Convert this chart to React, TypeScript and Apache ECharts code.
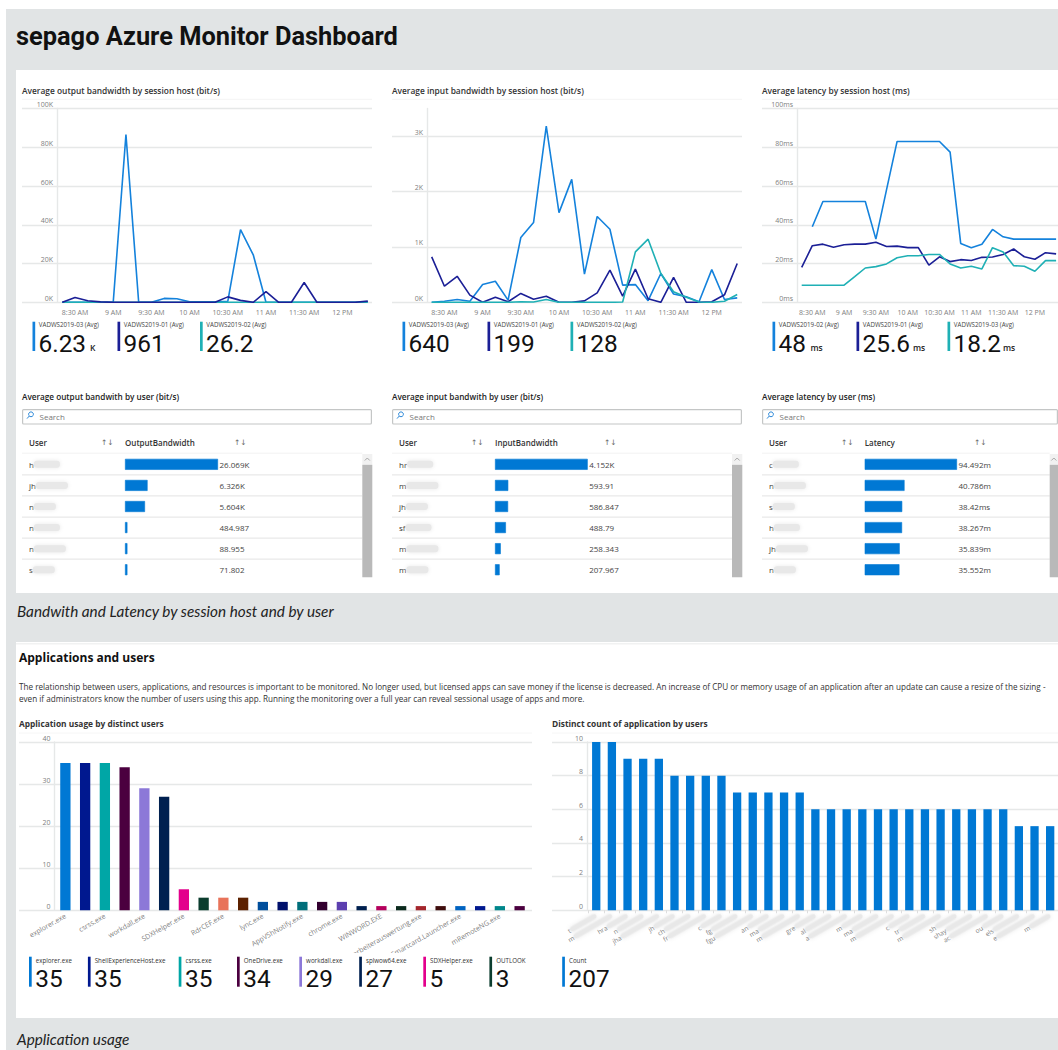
import React, { useEffect, useRef } from "react";
import * as echarts from "echarts";

const timeMinutes = [500, 510, 520, 530, 540, 550, 560, 570, 580, 590, 600, 610, 620, 630, 640, 650, 660, 670, 680, 690, 700, 710, 720, 730, 740];
const tickMinutes = [510, 540, 570, 600, 630, 660, 690, 720];
const tickLabels = ["8:30 AM", "9 AM", "9:30 AM", "10 AM", "10:30 AM", "11 AM", "11:30 AM", "12 PM"];

const outputHost03 = [0, 0, 0, 0, 0, 86500, 0, 0, 2000, 1800, 300, 200, 200, 500, 37500, 24500, 0, 0, 0, 0, 0, 0, 0, 0, 200];
const outputHost01 = [0, 2500, 800, 200, 0, 0, 0, 0, 0, 0, 0, 0, 0, 2800, 1000, 0, 5500, 0, 0, 10200, 0, 0, 0, 0, 600];
const outputHost02 = [0, 0, 0, 0, 0, 0, 0, 0, 0, 0, 0, 0, 0, 0, 0, 0, 0, 0, 0, 0, 0, 0, 0, 0, 0];

const inputHost03 = [0, 20, 50, 20, 320, 380, 40, 1170, 1440, 3180, 1620, 2220, 510, 1550, 1320, 310, 320, 30, 520, 150, 100, 10, 590, 50, 80];
const inputHost01 = [820, 290, 470, 130, 0, 90, 10, 160, 55, 110, 0, 0, 25, 170, 580, 110, 600, 65, 0, 450, 0, 0, 10, 135, 700];
const inputHost02 = [0, 0, 0, 0, 0, 0, 0, 10, 5, 50, 0, 0, 0, 0, 0, 5, 910, 1140, 520, 190, 90, 5, 0, 20, 140];

const latencyHost02 = [null, 39, 52, 52, 52, 52, 52, 32.6, 58, 83, 83, 83, 83, 83, 77.5, 30.4, 28.2, 30, 37.6, 33.8, 32.6, 32.6, 32.6, 32.6, 32.6];
const latencyHost01 = [18, 29.2, 30, 28.4, 29.7, 30, 30, 31, 28.8, 29, 28.2, 28.2, 19.2, 23.5, 21, 22, 21.6, 23.2, 23.4, 24.7, 27.5, 23.5, 22.2, 25.6, 25];
const latencyHost03 = [8.8, 8.8, 8.8, 8.8, 8.8, 13.2, 17.7, 18.4, 19.8, 23, 24, 24, 24.7, 24.7, 19.8, 17.7, 18.6, 17.2, 28.2, 26, 18.9, 18.6, 16, 21.5, 21.5];

const outputUsers = ["h", "jh", "n", "n", "n", "s"];
const outputValues = [26069, 6326, 5604, 484.987, 88.955, 71.802];
const outputLabels = ["26.069K", "6.326K", "5.604K", "484.987", "88.955", "71.802"];
const inputUsers = ["hr", "m", "jh", "sf", "m", "m"];
const inputValues = [4152, 593.91, 586.847, 488.79, 258.343, 207.967];
const inputLabels = ["4.152K", "593.91", "586.847", "488.79", "258.343", "207.967"];
const latencyUsers = ["c", "n", "s", "h", "jh", "n"];
const latencyValues = [94.492, 40.786, 38.42, 38.267, 35.839, 35.552];
const latencyLabels = ["94.492m", "40.786m", "38.42ms", "38.267m", "35.839m", "35.552m"];

const appNames = ["explorer.exe", "ShellExperienceHost.exe", "csrss.exe", "OneDrive.exe", "workdall.exe", "splwow64.exe", "SDXHelper.exe", "OUTLOOK.EXE", "RdrCEF.exe", "Teams.exe", "lync.exe", "msedge.exe", "AppVShNotify.exe", "iexplore.exe", "chrome.exe", "EXCEL.EXE", "WINWORD.EXE", "POWERPNT.EXE", "Mitarbeiterauswertung.exe", "notepad.exe", "vdSmartcard.Launcher.exe", "mstsc.exe", "mRemoteNG.exe", "AcroRd32.exe"];
const appCounts = [35, 35, 35, 34, 29, 27, 5, 3, 3, 3, 2, 2, 2, 2, 2, 1, 1, 1, 1, 1, 1, 1, 1, 1];
const appColors = ["#0078D4", "#00188F", "#00A6A6", "#4B003F", "#8C78D8", "#002050", "#E3008C", "#0B3D2E", "#E8735A", "#5C2100", "#004E9C", "#00106B", "#006E7A", "#32002F", "#5C3FAF", "#00204F", "#B4005C", "#0B2A1D", "#A4262C", "#3F0D0D", "#0063C1", "#00188F", "#00868B", "#4B003F"];

const userInitials = ["t", "m", "hra", "n", "jha", "jh", "ch", "fr", "c", "fg", "fgu", "an", "ma", "m", "gre", "al", "a", "m", "ma", "m", "c", "tr", "m", "sh", "shay", "ac", "ou", "els", "e", "m"];
const userAppCounts = [10, 10, 9, 9, 9, 8, 8, 8, 8, 7, 7, 7, 7, 7, 6, 6, 6, 6, 6, 6, 6, 6, 6, 6, 6, 6, 6, 5, 5, 5];

const legendOutput = [["VADWS2019-03 (Avg)", "6.23", "K"], ["VADWS2019-01 (Avg)", "961", ""], ["VADWS2019-02 (Avg)", "26.2", ""]];
const legendInput = [["VADWS2019-03 (Avg)", "640", ""], ["VADWS2019-01 (Avg)", "199", ""], ["VADWS2019-02 (Avg)", "128", ""]];
const legendLatency = [["VADWS2019-02 (Avg)", "48", "ms"], ["VADWS2019-01 (Avg)", "25.6", "ms"], ["VADWS2019-03 (Avg)", "18.2", "ms"]];
const legendApps = [["explorer.exe", "35"], ["ShellExperienceHost.exe", "35"], ["csrss.exe", "35"], ["OneDrive.exe", "34"], ["workdall.exe", "29"], ["splwow64.exe", "27"], ["SDXHelper.exe", "5"], ["OUTLOOK", "3"]];

const paragraph = [
  "The relationship between users, applications, and resources is important to be monitored. No longer used, but licensed apps can save money if the license is decreased. An increase of CPU or memory usage of an application after an update can cause a resize of the sizing -",
  "even if administrators know the number of users using this app. Running the monitoring over a full year can reveal sessional usage of apps and more.",
];

const BLUE = "#1482DC";
const NAVY = "#1B1F96";
const TEAL = "#1FB0B5";
const BAR = "#0078D4";
const GRID = "#E6E8E8";
const FONT = "'Open Sans', sans-serif";

function buildOption() {
  const grid: any[] = [];
  const xAxis: any[] = [];
  const yAxis: any[] = [];
  const series: any[] = [];
  const g: any[] = [];

  const text = (x: number, y: number, t: string, o: any = {}) => {
    const { z, ...style } = o;
    g.push({ type: "text", x, y, z: z ?? 5, style: { text: t, fontFamily: FONT, fontSize: 8, fill: "#333", verticalAlign: "middle", ...style } });
  };
  const rect = (x: number, y: number, w: number, h: number, fill: string, z = 5) =>
    g.push({ type: "rect", z, shape: { x, y, width: w, height: h }, style: { fill } });
  const hline = (x1: number, x2: number, y: number, stroke: string, lineWidth = 1) =>
    g.push({ type: "line", z: 1, shape: { x1, y1: y, x2, y2: y }, style: { stroke, lineWidth } });

  // a wide grid holds gridlines and value labels; a narrower one holds the marks
  const valueBackdrop = (left: number, right: number, top: number, bottom: number, max: number, interval: number, fmt: (v: number) => string, hideMax: boolean, labelRight: number) => {
    const gi = grid.length;
    grid.push({ left, top, width: right - left, height: bottom - top });
    xAxis.push({ gridIndex: gi, type: "value", show: false, min: 0, max: 1 });
    yAxis.push({
      gridIndex: gi, type: "value", min: 0, max, interval,
      axisLine: { show: false }, axisTick: { show: false },
      splitLine: { show: true, showMaxLine: !hideMax, lineStyle: { color: GRID, width: 1.4 } },
      axisLabel: { inside: true, margin: labelRight - left, align: "right", verticalAlign: "bottom", color: "#808080", fontSize: 7, fontFamily: FONT, showMaxLabel: !hideMax, formatter: fmt, lineHeight: 8 },
    });
  };

  const lineChart = (o: any) => {
    valueBackdrop(o.left, o.right, 108.5, 302.3, o.max, o.interval, o.fmt, !!o.hideMax, o.axisX - 4);
    const gi = grid.length;
    const xi = xAxis.length;
    const yi = yAxis.length;
    grid.push({ left: o.axisX, top: 108.5, width: o.right - o.axisX, height: 302.3 - 108.5 });
    const pxPerMin = o.step / 10;
    xAxis.push({
      gridIndex: gi, type: "value",
      min: 500 - (o.firstX - o.axisX) / pxPerMin,
      max: 500 + (o.right - o.firstX) / pxPerMin,
      splitLine: { show: false }, axisLine: { show: false }, axisTick: { show: false },
      axisLabel: {
        customValues: tickMinutes, margin: 7, color: "#808080", fontSize: 7, fontFamily: FONT,
        formatter: (v: number) => tickLabels[tickMinutes.indexOf(v)] ?? "",
      },
    });
    yAxis.push({
      gridIndex: gi, type: "value", min: 0, max: o.max, interval: o.interval,
      axisLine: { show: true, lineStyle: { color: GRID, width: 1.4 } }, axisTick: { show: false }, axisLabel: { show: false }, splitLine: { show: false },
    });
    o.lines.forEach(([name, vals, color]: any) => {
      series.push({
        name, type: "line", xAxisIndex: xi, yAxisIndex: yi, showSymbol: false, connectNulls: false,
        lineStyle: { color, width: 1.6 }, itemStyle: { color },
        data: timeMinutes.map((m, i) => [m, vals[i]]),
      });
    });
  };

  const kpis = (items: any[], xs: number[], unitXs: number[]) => {
    const colors = [BLUE, NAVY, TEAL];
    items.forEach(([label, value, unit], i) => {
      rect(xs[i], 321.7, 2.7, 29.3, colors[i]);
      text(xs[i] + 6.3, 324.6, label, { fontSize: 6.2, fill: "#444" });
      text(xs[i] + 6, 343, value, { fontFamily: "Roboto", fontSize: 24.4, fill: "#111" });
      if (unit) text(unitXs[i], 347, unit, { fontSize: 8.5, fontWeight: 600, fill: "#222" });
    });
  };

  const userLabelFmt = (v: string, i: number) => `{a|${v}}{b${i % 3}|}`;
  const smudge = (w: number, h = 7, c = "#E8E8E8") => ({ width: w, height: h, backgroundColor: c, shadowBlur: 4, shadowColor: c, borderRadius: 3 });

  const table = (o: any) => {
    const top = 453.8;
    const rowH = 21.08;
    text(o.x, 396, o.title, { fontSize: 8.2, fontWeight: 600, fill: "#222" });
    g.push({ type: "rect", z: 5, shape: { x: o.x + 0.6, y: 409.6, width: o.boxRight - o.x - 1.2, height: 14.4, r: 1 }, style: { fill: "#fff", stroke: "#C4C6C6", lineWidth: 1.2 } });
    g.push({ type: "circle", z: 6, shape: { cx: o.x + 9, cy: 414.3, r: 2.4 }, style: { fill: "none", stroke: "#2B88D8", lineWidth: 1 } });
    g.push({ type: "line", z: 6, shape: { x1: o.x + 7.3, y1: 416, x2: o.x + 5, y2: 418.6 }, style: { stroke: "#2B88D8", lineWidth: 1 } });
    text(o.x + 17.5, 416.8, "Search", { fontSize: 8, fill: "#777" });
    text(o.x + 7, 442, "User", { fontSize: 8, fontWeight: 600, fill: "#333" });
    text(o.barX, 442, o.column, { fontSize: 8, fontWeight: 600, fill: "#333" });
    text(o.x + 79, 442, "↑↓", { fontSize: 7.5, fill: "#666", fontFamily: "'DejaVu Sans'" });
    text(o.sortX, 442, "↑↓", { fontSize: 7.5, fill: "#666", fontFamily: "'DejaVu Sans'" });
    hline(o.x, o.scrollX, top - 0.6, "#F2F2F2");
    for (let r = 1; r < 6; r++) hline(o.x, o.scrollX, top + r * rowH, "#E9E9E9", 1.2);
    rect(o.scrollX, 454, o.scrollW, 10.5, "#F1F1F1");
    rect(o.scrollX, 464.7, o.scrollW, 112.6, "#B9B9B9");
    g.push({ type: "polyline", z: 6, shape: { points: [[o.scrollX + o.scrollW / 2 - 2.5, 460.5], [o.scrollX + o.scrollW / 2, 458], [o.scrollX + o.scrollW / 2 + 2.5, 460.5]] }, style: { fill: "none", stroke: "#A8A8A8", lineWidth: 1 } });

    const gi = grid.length;
    const xi = xAxis.length;
    const yi = yAxis.length;
    grid.push({ left: o.barX, top, width: o.barW, height: rowH * 6 });
    xAxis.push({ gridIndex: gi, type: "value", show: false, min: 0, max: o.values[0] });
    yAxis.push({
      gridIndex: gi, type: "category", inverse: true, data: o.users,
      axisLine: { show: false }, axisTick: { show: false }, splitLine: { show: false },
      axisLabel: {
        interval: 0, align: "left", margin: o.barX - o.x - 7, color: "#333", fontSize: 8, fontFamily: FONT,
        formatter: userLabelFmt,
        rich: { a: { color: "#333", fontSize: 8, fontFamily: FONT }, b0: smudge(26), b1: smudge(32), b2: smudge(22) },
      },
    });
    yAxis.push({
      gridIndex: gi, type: "category", position: "right", inverse: true, data: o.labels,
      axisLine: { show: false }, axisTick: { show: false }, splitLine: { show: false },
      axisLabel: { interval: 0, margin: 1.5, color: "#444", fontSize: 8, fontFamily: FONT },
    });
    series.push({
      type: "bar", xAxisIndex: xi, yAxisIndex: yi, data: o.values, barWidth: 11, barMinHeight: 2.4,
      itemStyle: { color: BAR, borderColor: BAR, borderWidth: 0.6 },
    });
  };

  // ---- panels and headings
  rect(6, 9, 1052, 1041, "#E1E4E5", -20);
  rect(16, 70, 1042, 523, "#FFFFFF", -19);
  rect(16, 642, 1042, 376, "#FFFFFF", -19);
  rect(16, 643, 1042, 1.6, "#F1F2F2", -18);
  text(16, 36, "sepago Azure Monitor Dashboard", { fontFamily: "Roboto", fontSize: 25.4, fontWeight: 700, fill: "#111" });
  text(17, 611, "Bandwith and Latency by session host and by user", { fontFamily: "Lato", fontStyle: "italic", fontSize: 15.3, fill: "#222" });
  text(17, 1038.5, "Application usage", { fontFamily: "Lato", fontStyle: "italic", fontSize: 15.3, fill: "#222" });

  // ---- line charts
  [["Average output bandwidth by session host (bit/s)", 22, 372], ["Average input bandwidth by session host (bit/s)", 392, 742], ["Average latency by session host (ms)", 762, 1058]].forEach(([t, a, b]: any) => {
    text(a, 90.5, t, { fontSize: 8.4, fontWeight: 600, fill: "#333" });
    hline(a, b, 99.3, "#F4F4F4");
  });

  const kFmt = (v: number) => `${v / 1000}K`;
  lineChart({ left: 22, right: 372, axisX: 57, firstX: 62.3, step: 12.73, max: 100000, interval: 20000, fmt: kFmt,
    lines: [["VADWS2019-03", outputHost03, BLUE], ["VADWS2019-02", outputHost02, TEAL], ["VADWS2019-01", outputHost01, NAVY]] });
  lineChart({ left: 392, right: 742, axisX: 427, firstX: 431.7, step: 12.73, max: 3500, interval: 1000, fmt: kFmt, hideMax: true,
    lines: [["VADWS2019-03", inputHost03, BLUE], ["VADWS2019-01", inputHost01, NAVY], ["VADWS2019-02", inputHost02, TEAL]] });
  lineChart({ left: 762, right: 1058, axisX: 797, firstX: 801.7, step: 10.6, max: 100, interval: 20, fmt: (v: number) => `${v}ms`,
    lines: [["VADWS2019-02", latencyHost02, BLUE], ["VADWS2019-01", latencyHost01, NAVY], ["VADWS2019-03", latencyHost03, TEAL]] });

  kpis(legendOutput, [32.5, 117.5, 200], [90, 0, 0]);
  kpis(legendInput, [402.5, 487.5, 570.5], [0, 0, 0]);
  kpis(legendLatency, [772.5, 856.5, 947.5], [810.5, 913, 1003]);

  // ---- tables
  table({ x: 22, boxRight: 372, title: "Average output bandwith by user (bit/s)", column: "OutputBandwidth", barX: 125, barW: 93, sortX: 234, scrollX: 362.3, scrollW: 10, users: outputUsers, values: outputValues, labels: outputLabels });
  table({ x: 392, boxRight: 742, title: "Average input bandwith by user (bit/s)", column: "InputBandwidth", barX: 495, barW: 92.7, sortX: 604, scrollX: 732, scrollW: 10.3, users: inputUsers, values: inputValues, labels: inputLabels });
  table({ x: 762, boxRight: 1058, title: "Average latency by user (ms)", column: "Latency", barX: 864.7, barW: 92.3, sortX: 974, scrollX: 1049.7, scrollW: 8.3, users: latencyUsers, values: latencyValues, labels: latencyLabels });

  // ---- applications section
  text(19, 657.5, "Applications and users", { fontSize: 12, fontWeight: 700, fill: "#111" });
  paragraph.forEach((line, i) => text(19, 686.5 + i * 11.5, line, { fontSize: 8.15, fill: "#333" }));
  text(19, 723, "Application usage by distinct users", { fontSize: 8.35, fontWeight: 700, fill: "#333" });
  text(552, 723, "Distinct count of application by users", { fontSize: 8.4, fontWeight: 700, fill: "#333" });
  hline(19, 532, 733, "#F6F6F6");
  hline(552, 1058, 733, "#F6F6F6");

  const barChart = (o: any) => {
    valueBackdrop(o.left, o.right, 742, 910.3, o.max, o.interval, (v: number) => `${v}`, false, o.axisX - 4);
    const gi = grid.length;
    const xi = xAxis.length;
    const yi = yAxis.length;
    grid.push({ left: o.gridLeft, top: 742, width: o.gridW, height: 910.3 - 742 });
    xAxis.push({
      gridIndex: gi, type: "category", data: o.cats,
      axisLine: { show: false }, axisTick: { show: o.ticks, length: 3, lineStyle: { color: "#DDD" } }, splitLine: { show: false },
      axisLabel: o.axisLabel,
    });
    yAxis.push({
      gridIndex: gi, type: "value", min: 0, max: o.max, interval: o.interval,
      offset: o.gridLeft - o.axisX,
      axisLine: { show: true, lineStyle: { color: GRID, width: 1.4 } }, axisTick: { show: false }, axisLabel: { show: false }, splitLine: { show: false },
    });
    series.push({ type: "bar", xAxisIndex: xi, yAxisIndex: yi, barWidth: o.barW, data: o.values });
  };

  barChart({
    left: 19, right: 532, axisX: 54.5, gridLeft: 55.5, gridW: 474, max: 40, interval: 10, cats: appNames, barW: 10.3, ticks: false,
    values: appCounts.map((v, i) => ({ value: v, itemStyle: { color: appColors[i] } })),
    axisLabel: { interval: 1, rotate: 30, margin: 5, color: "#808080", fontSize: 7, fontFamily: FONT },
  });
  barChart({
    left: 552, right: 1058, axisX: 587, gridLeft: 588.4, gridW: 474, max: 10, interval: 2, cats: userInitials, barW: 8.3, ticks: true,
    values: userAppCounts.map((v) => ({ value: v, itemStyle: { color: BAR } })),
    axisLabel: {
      interval: 0, rotate: 30, margin: 5, fontSize: 6.5, fontFamily: FONT, color: "#808080",
      formatter: (v: string, i: number) => `{a|${v}}{b${i % 3}|}`,
      rich: { a: { color: "#808080", fontSize: 6.5, fontFamily: FONT }, b0: smudge(30, 5), b1: smudge(44, 5), b2: smudge(24, 5) },
    },
  });

  // legend strips cover the clipped ends of the rotated labels
  rect(16, 953, 1042, 65, "#FFFFFF", 20);
  const legendXs = [30.3, 89.2, 180, 238.3, 300.6, 360.5, 424.6, 490.7];
  const legendCols = ["#0078D4", "#00188F", "#00A6A6", "#4B003F", "#8C78D8", "#002050", "#E3008C", "#0B3D2E"];
  const kpiBar = (x: number, color: string, label: string, value: string) => {
    rect(x - 1.3, 956.7, 2.7, 30, color, 21);
    text(x + 5.5, 960, label, { fontSize: 6.2, fill: "#333", z: 21 });
    text(x + 5, 978.5, value, { fontFamily: "Roboto", fontSize: 24.4, fill: "#111", z: 21 });
  };
  legendApps.forEach(([l, v], i) => kpiBar(legendXs[i], legendCols[i], l, v));
  kpiBar(563.5, BAR, "Count", "207");

  return { animation: false, backgroundColor: "#FFFFFF", tooltip: { show: false }, grid, xAxis, yAxis, series, graphic: { elements: g } };
}

export default function App() {
  const ref = useRef<HTMLDivElement>(null);
  useEffect(() => {
    const chart = echarts.init(ref.current!, undefined, { renderer: "svg" });
    chart.setOption(buildOption() as any);
    return () => chart.dispose();
  }, []);
  return <div ref={ref} style={{ position: "absolute", left: 0, top: 0, width: 1058, height: 1050 }} />;
}
